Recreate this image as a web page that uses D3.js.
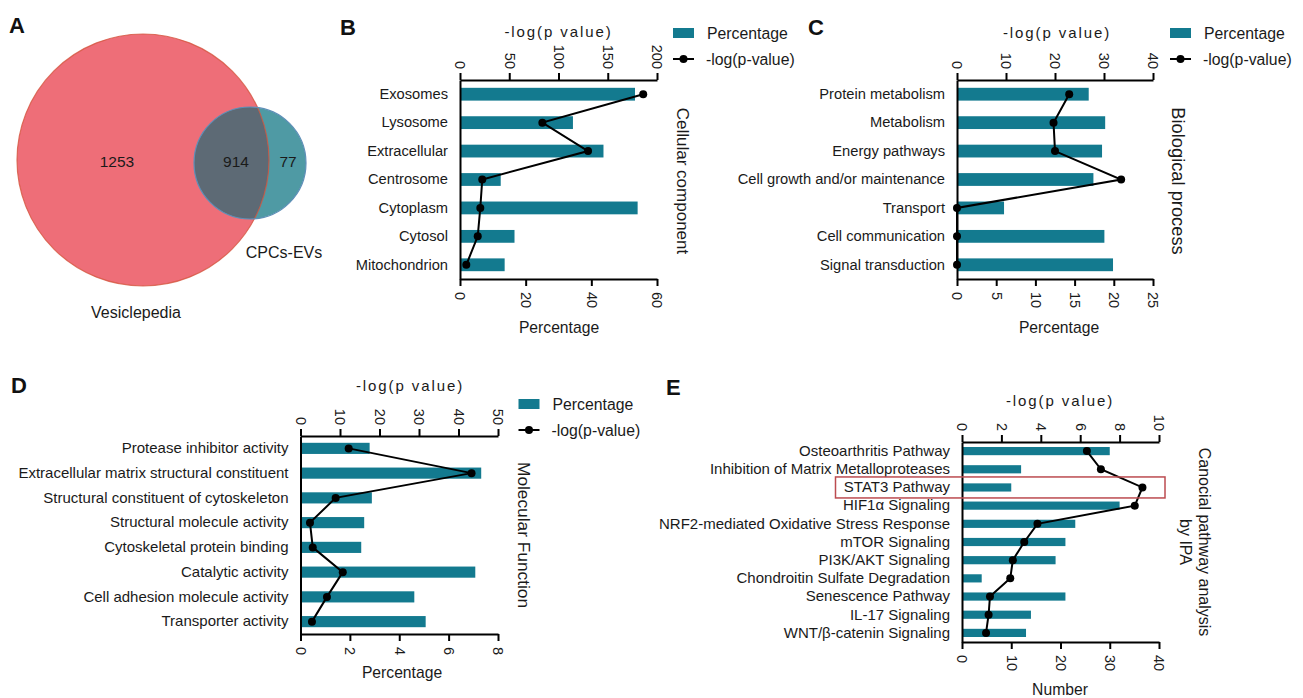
<!DOCTYPE html>
<html>
<head>
<meta charset="utf-8">
<script src="https://cdn.jsdelivr.net/npm/d3@7"></script>
<style>
  body { margin: 0; background: #fff; }
  svg text { font-family: "Liberation Sans", Arial, Helvetica, sans-serif; fill: #1a1a1a; }
</style>
</head>
<body>
<svg id="fig" width="1303" height="698"></svg>
<script>
// ---- data ----
const vennSets = ["Vesiclepedia", "CPCs-EVs"];
const vennCounts = [1253, 914, 77];   // only A, A∩B, only B

const ccCategories = ["Exosomes", "Lysosome", "Extracellular", "Centrosome", "Cytoplasm", "Cytosol", "Mitochondrion"];
const ccPercent = [53.3, 34.4, 43.7, 12.4, 54.1, 16.6, 13.6];
const ccLogP = [186, 83.6, 130, 22.6, 20.6, 18, 6.4];
const ccPctTicks = [0, 20, 40, 60];
const ccLogTicks = [0, 50, 100, 150, 200];

const bpCategories = ["Protein metabolism", "Metabolism", "Energy pathways", "Cell growth and/or maintenance", "Transport", "Cell communication", "Signal transduction"];
const bpPercent = [16.8, 18.9, 18.5, 17.4, 6.0, 18.8, 19.9];
const bpLogP = [22.9, 19.7, 20.0, 33.5, 0, 0, 0];
const bpPctTicks = [0, 5, 10, 15, 20, 25];
const bpLogTicks = [0, 10, 20, 30, 40];

const mfCategories = ["Protease inhibitor activity", "Extracellular matrix structural constituent", "Structural constituent of cytoskeleton", "Structural molecule activity", "Cytoskeletal protein binding", "Catalytic activity", "Cell adhesion molecule activity", "Transporter activity"];
const mfPercent = [2.8, 7.32, 2.89, 2.58, 2.46, 7.08, 4.61, 5.07];
const mfLogP = [12.2, 43.3, 8.9, 2.4, 3.1, 10.7, 6.7, 2.9];
const mfPctTicks = [0, 2, 4, 6, 8];
const mfLogTicks = [0, 10, 20, 30, 40, 50];

const ipaPathways = ["Osteoarthritis Pathway", "Inhibition of Matrix Metalloproteases", "STAT3 Pathway", "HIF1α Signaling", "NRF2-mediated Oxidative Stress Response", "mTOR Signaling", "PI3K/AKT Signaling", "Chondroitin Sulfate Degradation", "Senescence Pathway", "IL-17 Signaling", "WNT/β-catenin Signaling"];
const ipaNumber = [30, 12, 10, 32, 23, 21, 19, 4, 21, 14, 13];
const ipaLogP = [6.34, 7.05, 9.16, 8.77, 3.83, 3.16, 2.58, 2.45, 1.42, 1.35, 1.22];
const ipaNumTicks = [0, 10, 20, 30, 40];
const ipaLogTicks = [0, 2, 4, 6, 8, 10];
const ipaHighlight = "STAT3 Pathway";

const legendLabels = ["Percentage", "-log(p-value)"];

// ---- styles ----
const BAR = "#137a8f";
const svg = d3.select("#fig");

function letter(t, x, y){
  svg.append("text").attr("x", x).attr("y", y).text(t)
    .attr("font-size", 22).attr("font-weight", "bold").style("fill", "#111");
}

// ---- panel A: venn ----
function drawVenn(){
  const big = {cx: 143, cy: 160, r: 126};
  const small = {cx: 250, cy: 163, r: 56};
  const g = svg.append("g");
  g.append("clipPath").attr("id", "bigClip")
    .append("circle").attr("cx", big.cx).attr("cy", big.cy).attr("r", big.r);
  g.append("circle").attr("cx", big.cx).attr("cy", big.cy).attr("r", big.r)
    .attr("fill", "#ee6e78");
  g.append("circle").attr("cx", small.cx).attr("cy", small.cy).attr("r", small.r)
    .attr("fill", "#4f9aa4");
  g.append("circle").attr("cx", small.cx).attr("cy", small.cy).attr("r", small.r)
    .attr("fill", "#5d6a75").attr("clip-path", "url(#bigClip)");
  g.append("circle").attr("cx", big.cx).attr("cy", big.cy).attr("r", big.r)
    .attr("fill", "none").attr("stroke", "#d4553f").attr("stroke-width", 1.2).attr("stroke-opacity", 0.8);
  g.append("circle").attr("cx", small.cx).attr("cy", small.cy).attr("r", small.r)
    .attr("fill", "none").attr("stroke", "#5f8fb8").attr("stroke-width", 1.2);

  const numPos = [[117, 162], [236, 162], [288, 162]];
  g.selectAll("text.cnt").data(vennCounts).join("text")
    .attr("x", (d, i) => numPos[i][0]).attr("y", (d, i) => numPos[i][1])
    .attr("dy", "0.35em").attr("text-anchor", "middle").attr("font-size", 15.5)
    .text(d => d);
  g.append("text").attr("x", 136).attr("y", 318).attr("text-anchor", "middle")
    .attr("font-size", 16).text(vennSets[0]);
  g.append("text").attr("x", 284).attr("y", 258).attr("text-anchor", "middle")
    .attr("font-size", 16).text(vennSets[1]);
  letter("A", 9, 33);
}

// ---- bar + line panels ----
function drawPanel(p){
  const g = svg.append("g");
  const y = d3.scaleBand().domain(p.cats).range([p.y0, p.y1])
    .paddingInner(0.55).paddingOuter(0.275);
  const xPct = d3.scaleLinear().domain([0, d3.max(p.pctTicks)]).range([p.x0, p.x1]);
  const xLog = d3.scaleLinear().domain([0, d3.max(p.logTicks)]).range([p.x0, p.x1]);

  // bars
  g.selectAll("rect.bar").data(p.pct).join("rect")
    .attr("class", "bar")
    .attr("x", p.x0)
    .attr("y", (d, i) => y(p.cats[i]))
    .attr("width", d => xPct(d) - p.x0)
    .attr("height", y.bandwidth())
    .attr("fill", BAR);

  // axes
  const styleAxis = sel => {
    sel.select(".domain").attr("stroke", "#000").attr("stroke-width", 2);
    sel.selectAll(".tick line").attr("stroke", "#000").attr("stroke-width", 2);
    sel.selectAll("text").attr("font-size", 14.5).attr("font-family", null).style("fill", "#1a1a1a");
  };
  const topAxis = g.append("g").attr("transform", `translate(0,${p.y0})`)
    .call(d3.axisTop(xLog).tickValues(p.logTicks).tickSize(7).tickSizeOuter(0));
  styleAxis(topAxis);
  topAxis.selectAll(".tick text")
    .attr("x", -11).attr("y", 0).attr("dy", "0.35em")
    .attr("transform", "rotate(90)").attr("text-anchor", "end");

  const botAxis = g.append("g").attr("transform", `translate(0,${p.y1})`)
    .call(d3.axisBottom(xPct).tickValues(p.pctTicks).tickSize(7).tickSizeOuter(0));
  styleAxis(botAxis);
  botAxis.selectAll(".tick text")
    .attr("x", 13).attr("y", 0).attr("dy", "0.35em")
    .attr("transform", "rotate(90)").attr("text-anchor", "start");

  const leftAxis = g.append("g").attr("transform", `translate(${p.x0},0)`)
    .call(d3.axisLeft(y).tickSize(0).tickSizeOuter(0).tickPadding(12));
  styleAxis(leftAxis);
  leftAxis.selectAll(".tick text").attr("font-size", p.fs);

  // -log(p) line
  const pts = p.cats.map((c, i) => ({c: c, v: p.logp[i]}));
  const line = d3.line().x(d => xLog(d.v)).y(d => y(d.c) + y.bandwidth() / 2);
  g.append("path").datum(pts).attr("d", line)
    .attr("fill", "none").attr("stroke", "#000").attr("stroke-width", 2);
  g.selectAll("circle.pt").data(pts).join("circle")
    .attr("cx", d => xLog(d.v)).attr("cy", d => y(d.c) + y.bandwidth() / 2)
    .attr("r", 4).attr("fill", "#000");

  // titles
  g.append("text").attr("x", p.topTitle[0]).attr("y", p.topTitle[1])
    .attr("dy", "0.35em").attr("text-anchor", "middle")
    .attr("font-size", 15).attr("letter-spacing", 1.9).text("-log(p value)");
  g.append("text").attr("x", p.botTitle[0]).attr("y", p.botTitle[1])
    .attr("dy", "0.35em").attr("text-anchor", "middle")
    .attr("font-size", 15.7).text(p.botLabel);
  const side = g.append("text")
    .attr("transform", `translate(${p.side.x},${p.side.y}) rotate(90)`)
    .attr("text-anchor", "middle").attr("font-size", p.side.fs);
  p.side.lines.forEach((t, i) => {
    side.append("tspan").attr("x", 0).attr("dy", i === 0 ? "0.35em" : "1.2em").text(t);
  });

  // legend
  if (p.legend){
    const [lx, ly] = p.legend;
    const lg = g.append("g").attr("transform", `translate(${lx},${ly})`);
    lg.append("rect").attr("x", 0).attr("y", 0).attr("width", 21).attr("height", 10).attr("fill", BAR);
    lg.append("text").attr("x", 34).attr("y", 5).attr("dy", "0.35em")
      .attr("font-size", 15.8).text(legendLabels[0]);
    lg.append("line").attr("x1", 0).attr("x2", 21).attr("y1", 31).attr("y2", 31)
      .attr("stroke", "#000").attr("stroke-width", 2);
    lg.append("circle").attr("cx", 10.5).attr("cy", 31).attr("r", 4).attr("fill", "#000");
    lg.append("text").attr("x", 33).attr("y", 31).attr("dy", "0.35em")
      .attr("font-size", 15.8).text(legendLabels[1]);
  }

  // highlight box
  if (p.highlight){
    const yc = y(p.highlight) + y.bandwidth() / 2;
    g.append("rect").attr("x", p.highlightX[0]).attr("y", yc - 10.5)
      .attr("width", p.highlightX[1] - p.highlightX[0]).attr("height", 21)
      .attr("fill", "none").attr("stroke", "#bc4b50").attr("stroke-width", 1.5);
  }

  letter(p.letter[0], p.letter[1], p.letter[2]);
}

drawVenn();

drawPanel({
  cats: ccCategories, pct: ccPercent, logp: ccLogP,
  pctTicks: ccPctTicks, logTicks: ccLogTicks,
  x0: 460, x1: 657, y0: 80, y1: 279, fs: 14.7,
  topTitle: [558.5, 32], botTitle: [559, 328], botLabel: "Percentage",
  side: {x: 683, y: 181, fs: 17, lines: ["Cellular component"]},
  legend: [673, 28], letter: ["B", 340, 35]
});

drawPanel({
  cats: bpCategories, pct: bpPercent, logp: bpLogP,
  pctTicks: bpPctTicks, logTicks: bpLogTicks,
  x0: 957, x1: 1153, y0: 80, y1: 279, fs: 14.7,
  topTitle: [1057, 33], botTitle: [1059, 328], botLabel: "Percentage",
  side: {x: 1178, y: 181, fs: 18.3, lines: ["Biological process"]},
  legend: [1170, 28], letter: ["C", 808, 35]
});

drawPanel({
  cats: mfCategories, pct: mfPercent, logp: mfLogP,
  pctTicks: mfPctTicks, logTicks: mfLogTicks,
  x0: 300.5, x1: 498, y0: 436, y1: 634, fs: 15,
  topTitle: [410, 386], botTitle: [402, 673], botLabel: "Percentage",
  side: {x: 524, y: 535, fs: 17.3, lines: ["Molecular Function"]},
  legend: [518.5, 399], letter: ["D", 11, 393]
});

drawPanel({
  cats: ipaPathways, pct: ipaNumber, logp: ipaLogP,
  pctTicks: ipaNumTicks, logTicks: ipaLogTicks,
  x0: 962, x1: 1159, y0: 442, y1: 642, fs: 15,
  topTitle: [1060, 401], botTitle: [1060, 690], botLabel: "Number",
  side: {x: 1204.5, y: 542, fs: 16, lines: ["Canocial pathway analysis", "by IPA"]},
  legend: null, letter: ["E", 666, 395],
  highlight: ipaHighlight, highlightX: [835.5, 1165]
});
</script>
</body>
</html>
